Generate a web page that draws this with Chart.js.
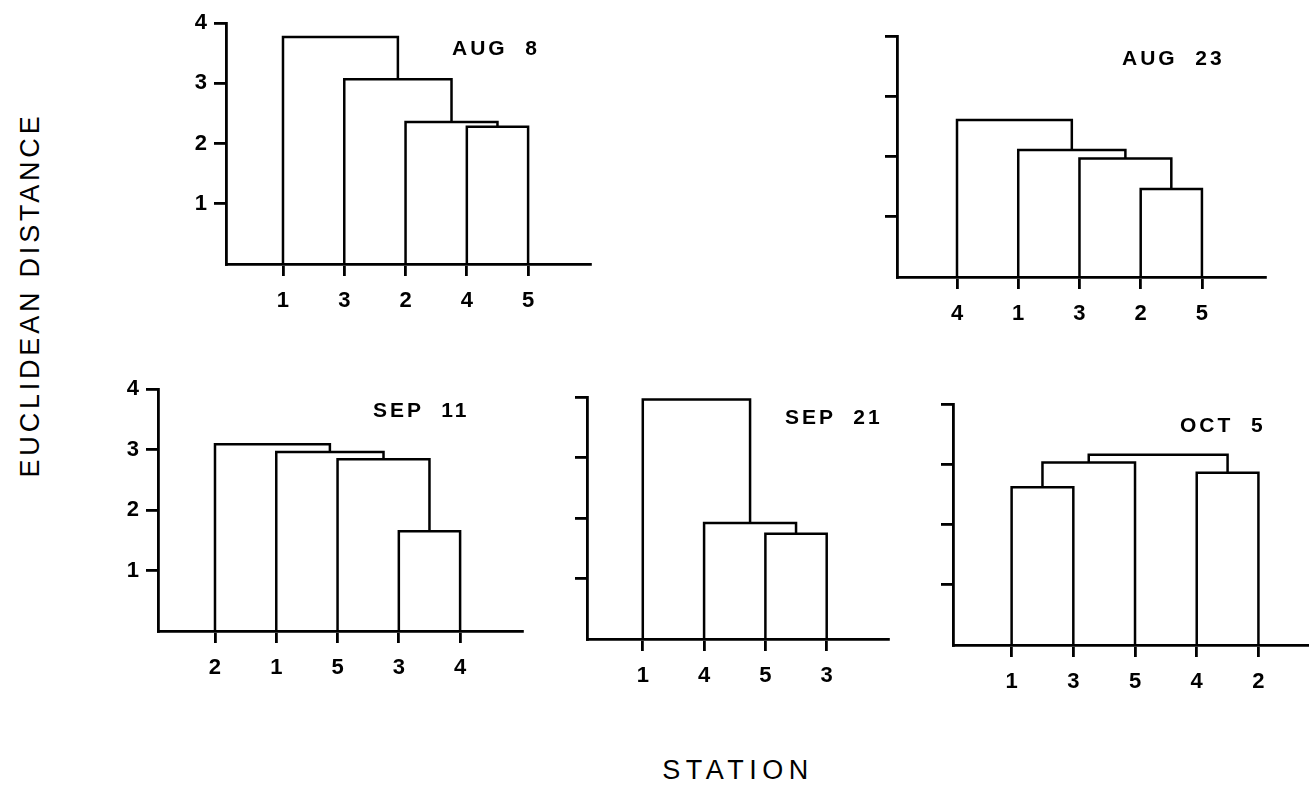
<!DOCTYPE html>
<html>
<head>
<meta charset="utf-8">
<title>Euclidean distance between stations</title>
<script src="https://cdn.jsdelivr.net/npm/chart.js@4.4.1/dist/chart.umd.min.js"></script>
<style>
  html, body { margin: 0; padding: 0; background: #fff; }
  body {
    width: 1309px; height: 790px; position: relative; overflow: hidden;
    font-family: "Liberation Sans", Arial, Helvetica, sans-serif; color: #000;
  }
  canvas { position: absolute; }
  .panel-title {
    position: absolute; font-size: 21px; font-weight: bold; letter-spacing: 3px; white-space: pre;
    line-height: 1; transform: translateY(-50%);
  }
  #y-title {
    position: absolute; left: 30px; top: 295px; font-size: 27px; letter-spacing: 3.8px;
    white-space: nowrap; line-height: 1; transform: translate(-50%, -50%) rotate(-90deg);
  }
  #x-title {
    position: absolute; left: 738px; top: 770px; font-size: 27px; letter-spacing: 5.5px;
    white-space: nowrap; line-height: 1; transform: translate(-50%, -50%);
  }
</style>
</head>
<body>
<div id="y-title">EUCLIDEAN DISTANCE</div>
<div id="x-title">STATION</div>

<script>
// station order along each tree, and the joins:
// [left node, right node, distance]; nodes 0..n-1 are stations, n.. are earlier joins
const aug8Stations = ['1', '3', '2', '4', '5'];
const aug8Joins = [[3, 4, 2.28], [2, 5, 2.36], [1, 6, 3.07], [0, 7, 3.77]];

const aug23Stations = ['4', '1', '3', '2', '5'];
const aug23Joins = [[3, 4, 1.46], [2, 5, 1.97], [1, 6, 2.11], [0, 7, 2.61]];

const sep11Stations = ['2', '1', '5', '3', '4'];
const sep11Joins = [[3, 4, 1.65], [2, 5, 2.84], [1, 6, 2.96], [0, 7, 3.09]];

const sep21Stations = ['1', '4', '5', '3'];
const sep21Joins = [[2, 3, 1.74], [1, 4, 1.92], [0, 5, 3.96]];

const oct5Stations = ['1', '3', '5', '4', '2'];
const oct5Joins = [[0, 1, 2.62], [3, 4, 2.86], [5, 2, 3.03], [7, 6, 3.16]];

const distanceTicks = [1, 2, 3, 4];

// where each plot area sits on the page (px) and its x range
const panels = [
  { title: 'AUG  8',  stations: aug8Stations,  joins: aug8Joins,  labels: true,
    left: 226, right: 590, top: 19, bottom: 264, xMin: 0.07, xMax: 6.01, tx: 452, ty: 47 },
  { title: 'AUG  23', stations: aug23Stations, joins: aug23Joins, labels: false,
    left: 897, right: 1265, top: 32, bottom: 277, xMin: 0.02, xMax: 6.03, tx: 1122, ty: 57 },
  { title: 'SEP  11', stations: sep11Stations, joins: sep11Joins, labels: true,
    left: 158, right: 522, top: 385, bottom: 631, xMin: 0.07, xMax: 6.01, tx: 373, ty: 409 },
  { title: 'SEP  21', stations: sep21Stations, joins: sep21Joins, labels: false,
    left: 587, right: 888, top: 393, bottom: 639, xMin: 0.09, xMax: 5.0, tx: 785, ty: 416 },
  { title: 'OCT  5',  stations: oct5Stations,  joins: oct5Joins,  labels: false,
    left: 953, right: 1330, top: 400, bottom: 645, xMin: 0.05, xMax: 6.16, tx: 1180, ty: 424 }
];

const Y_W = 60, X_H = 60, PAD_T = 16, PAD_R = 6;
const tickFont = { family: '"Liberation Sans", Arial, Helvetica, sans-serif', size: 22, weight: 'bold' };

// turn joins into the little "n" shaped links of a dendrogram
function buildLinks(stations, joins) {
  const xs = stations.map((_, i) => i + 1);
  const hs = stations.map(() => 0);
  return joins.map(([a, b, h]) => {
    const pts = [
      { x: xs[a], y: hs[a] }, { x: xs[a], y: h },
      { x: xs[b], y: h }, { x: xs[b], y: hs[b] }
    ];
    xs.push((xs[a] + xs[b]) / 2);
    hs.push(h);
    return pts;
  });
}

function axisStyle() {
  return {
    grid: { drawOnChartArea: false, drawTicks: true, tickLength: 12, lineWidth: 2.8, color: '#000' },
    border: { display: true, color: '#000', width: 2.8 }
  };
}

panels.forEach(p => {
  const canvas = document.createElement('canvas');
  canvas.width = (p.right - p.left) + Y_W + PAD_R;
  canvas.height = (p.bottom - p.top) + PAD_T + X_H;
  canvas.style.left = (p.left - Y_W) + 'px';
  canvas.style.top = (p.top - PAD_T) + 'px';
  document.body.appendChild(canvas);

  const title = document.createElement('div');
  title.className = 'panel-title';
  title.textContent = p.title;
  title.style.left = p.tx + 'px';
  title.style.top = p.ty + 'px';
  document.body.appendChild(title);

  const links = buildLinks(p.stations, p.joins);

  new Chart(canvas, {
    type: 'scatter',
    data: {
      datasets: links.map(pts => ({
        data: pts,
        showLine: true,
        borderColor: '#000',
        borderWidth: 2.5,
        borderJoinStyle: 'miter',
        pointRadius: 0,
        tension: 0,
        fill: false,
        clip: false
      }))
    },
    options: {
      responsive: false,
      animation: false,
      events: [],
      layout: { padding: { top: PAD_T, right: PAD_R, left: 0, bottom: 0 } },
      plugins: { legend: { display: false }, tooltip: { enabled: false } },
      scales: {
        x: {
          type: 'linear',
          min: p.xMin,
          max: p.xMax,
          afterBuildTicks: s => { s.ticks = p.stations.map((_, i) => ({ value: i + 1 })); },
          afterFit: s => { s.height = X_H; },
          ticks: {
            autoSkip: false, maxRotation: 0, padding: 12, color: '#000', font: tickFont,
            callback: (v, i) => p.stations[i]
          },
          ...axisStyle()
        },
        y: {
          type: 'linear',
          min: 0,
          max: 4,
          afterBuildTicks: s => { s.ticks = distanceTicks.map(v => ({ value: v })); },
          afterFit: s => { s.width = Y_W; },
          ticks: {
            padding: 7, color: '#000', font: tickFont,
            callback: v => p.labels ? String(v) : ''
          },
          ...axisStyle()
        }
      }
    }
  });
});
</script>
</body>
</html>
